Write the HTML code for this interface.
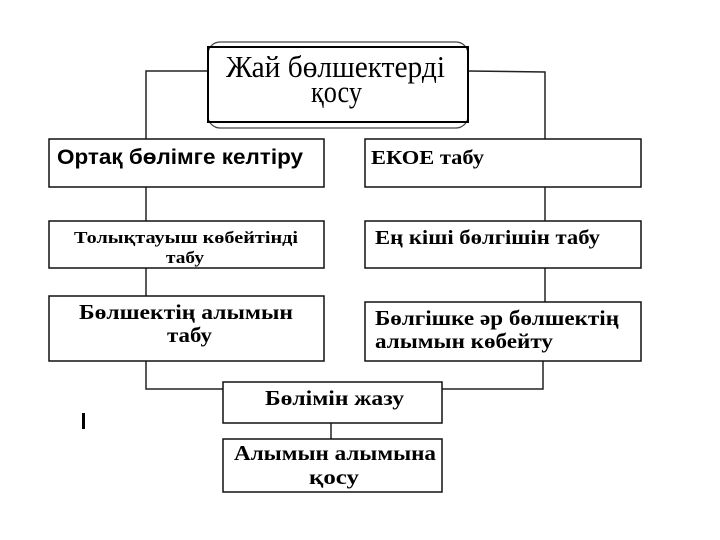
<!DOCTYPE html>
<html><head><meta charset="utf-8"><style>
html,body{margin:0;padding:0;background:#fff;}
svg{display:block;}
.s{font-family:"Liberation Serif","DejaVu Serif",serif;font-weight:bold;}
</style></head><body>
<svg width="720" height="540" viewBox="0 0 720 540" xmlns="http://www.w3.org/2000/svg">
<g fill="none" stroke="#222" stroke-width="1.5">
<polyline points="208,71 146,71 146,139"/>
<polyline points="468,71 545,72 545,139"/>
<line x1="146" y1="187" x2="146" y2="221"/>
<line x1="146" y1="268" x2="146" y2="296"/>
<line x1="545" y1="187" x2="545" y2="221"/>
<line x1="545" y1="268" x2="545" y2="302"/>
<polyline points="146,361 146,389 223,389"/>
<polyline points="543,361 543,389 442,389"/>
<line x1="331" y1="423" x2="331" y2="439"/>
</g>
<rect x="208" y="42" width="260" height="86" rx="12" fill="#fff" stroke="#444" stroke-width="1.2"/>
<rect x="208" y="47" width="260" height="75" fill="none" stroke="#000" stroke-width="2"/>
<g fill="#fff" stroke="#111" stroke-width="1.5">
<rect x="49" y="139" width="275" height="48"/>
<rect x="49" y="221" width="275" height="47"/>
<rect x="49" y="296" width="275" height="65"/>
<rect x="365" y="139" width="276" height="48"/>
<rect x="365" y="221" width="276" height="47"/>
<rect x="365" y="302" width="276" height="59"/>
<rect x="223" y="382" width="219" height="41"/>
<rect x="223" y="439" width="219" height="53"/>
</g>
<rect x="82" y="413" width="3" height="16" fill="#000"/>
<g fill="#000">
<text x="226" y="77" font-family="Liberation Serif, serif" font-size="31" textLength="219" lengthAdjust="spacingAndGlyphs">Жай бөлшектерді</text>
<text x="311" y="102" font-family="Liberation Serif, serif" font-size="31" textLength="51" lengthAdjust="spacingAndGlyphs">қосу</text>
<text x="57" y="164" font-family="Liberation Sans, sans-serif" font-weight="bold" font-size="21" textLength="246" lengthAdjust="spacingAndGlyphs">Ортақ бөлімге келтіру</text>
<text class="s" x="371" y="164" font-size="20" textLength="113" lengthAdjust="spacingAndGlyphs">ЕКОЕ табу</text>
<text class="s" x="74" y="243" font-size="17" textLength="224" lengthAdjust="spacingAndGlyphs">Толықтауыш көбейтінді</text>
<text class="s" x="166" y="263" font-size="17" textLength="38" lengthAdjust="spacingAndGlyphs">табу</text>
<text class="s" x="375" y="244" font-size="20" textLength="225" lengthAdjust="spacingAndGlyphs">Ең кіші бөлгішін табу</text>
<text class="s" x="79" y="319" font-size="21" textLength="214" lengthAdjust="spacingAndGlyphs">Бөлшектің алымын</text>
<text class="s" x="167" y="342" font-size="21" textLength="45" lengthAdjust="spacingAndGlyphs">табу</text>
<text class="s" x="375" y="325" font-size="21" textLength="244" lengthAdjust="spacingAndGlyphs">Бөлгішке әр бөлшектің</text>
<text class="s" x="375" y="348" font-size="21" textLength="178" lengthAdjust="spacingAndGlyphs">алымын көбейту</text>
<text class="s" x="265" y="405" font-size="21" textLength="139" lengthAdjust="spacingAndGlyphs">Бөлімін жазу</text>
<text class="s" x="234" y="460" font-size="21" textLength="202" lengthAdjust="spacingAndGlyphs">Алымын алымына</text>
<text class="s" x="309" y="484" font-size="21" textLength="50" lengthAdjust="spacingAndGlyphs">қосу</text>
</g>
</svg>
</body></html>
